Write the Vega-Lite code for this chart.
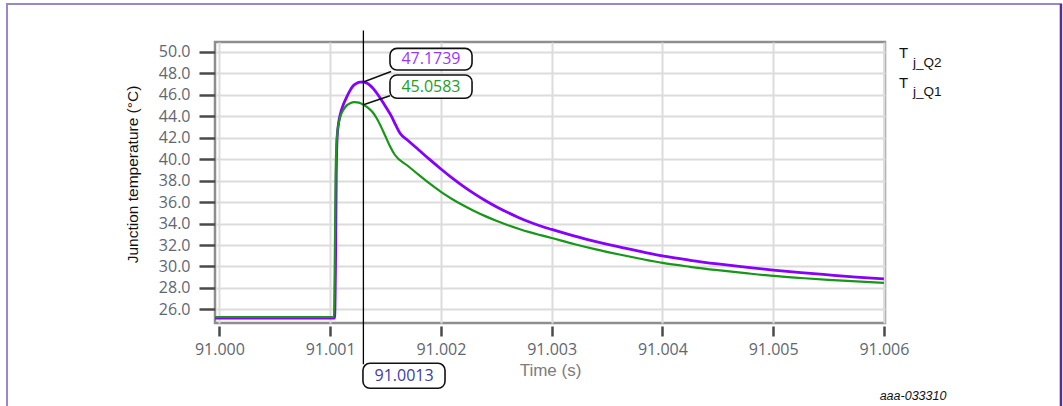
{
  "$schema": "https://vega.github.io/schema/vega-lite/v6.json",
  "width": 670,
  "height": 281,
  "autosize": {"type": "none"},
  "padding": {"left": 215, "top": 42, "right": 178, "bottom": 83},
  "background": "white",
  "config": {
    "view": {"stroke": "#8e8e8e", "strokeWidth": 2.5},
    "font": "Open Sans"
  },
  "datasets": {
    "temps": [
      {"t": 90.99996, "v": 25.2, "series": "Q2"},
      {"t": 91.00104, "v": 25.2, "series": "Q2"},
      {"t": 91.001048, "v": 30.0, "series": "Q2"},
      {"t": 91.001055, "v": 38.5, "series": "Q2"},
      {"t": 91.001062, "v": 41.8, "series": "Q2"},
      {"t": 91.001075, "v": 43.3, "series": "Q2"},
      {"t": 91.001092, "v": 44.2, "series": "Q2"},
      {"t": 91.00112, "v": 45.1, "series": "Q2"},
      {"t": 91.00115, "v": 45.8, "series": "Q2"},
      {"t": 91.00118, "v": 46.4, "series": "Q2"},
      {"t": 91.00121, "v": 46.85, "series": "Q2"},
      {"t": 91.00124, "v": 47.07, "series": "Q2"},
      {"t": 91.00127, "v": 47.17, "series": "Q2"},
      {"t": 91.0013, "v": 47.1739, "series": "Q2"},
      {"t": 91.00132, "v": 47.12, "series": "Q2"},
      {"t": 91.00134, "v": 47.02, "series": "Q2"},
      {"t": 91.00136, "v": 46.86, "series": "Q2"},
      {"t": 91.00138, "v": 46.66, "series": "Q2"},
      {"t": 91.0014, "v": 46.42, "series": "Q2"},
      {"t": 91.00142, "v": 46.15, "series": "Q2"},
      {"t": 91.00146, "v": 45.55, "series": "Q2"},
      {"t": 91.0015, "v": 44.9, "series": "Q2"},
      {"t": 91.001555, "v": 43.95, "series": "Q2"},
      {"t": 91.00159, "v": 43.2, "series": "Q2"},
      {"t": 91.001631, "v": 42.4, "series": "Q2"},
      {"t": 91.0017, "v": 41.75, "series": "Q2"},
      {"t": 91.0018, "v": 40.85, "series": "Q2"},
      {"t": 91.0019, "v": 39.95, "series": "Q2"},
      {"t": 91.002, "v": 39.08, "series": "Q2"},
      {"t": 91.0021, "v": 38.25, "series": "Q2"},
      {"t": 91.0022, "v": 37.48, "series": "Q2"},
      {"t": 91.0023, "v": 36.78, "series": "Q2"},
      {"t": 91.0024, "v": 36.14, "series": "Q2"},
      {"t": 91.0025, "v": 35.56, "series": "Q2"},
      {"t": 91.0026, "v": 35.04, "series": "Q2"},
      {"t": 91.0027, "v": 34.57, "series": "Q2"},
      {"t": 91.0028, "v": 34.14, "series": "Q2"},
      {"t": 91.0029, "v": 33.77, "series": "Q2"},
      {"t": 91.003, "v": 33.45, "series": "Q2"},
      {"t": 91.0032, "v": 32.85, "series": "Q2"},
      {"t": 91.0034, "v": 32.32, "series": "Q2"},
      {"t": 91.0036, "v": 31.84, "series": "Q2"},
      {"t": 91.0038, "v": 31.4, "series": "Q2"},
      {"t": 91.004, "v": 30.98, "series": "Q2"},
      {"t": 91.00425, "v": 30.58, "series": "Q2"},
      {"t": 91.0045, "v": 30.24, "series": "Q2"},
      {"t": 91.00475, "v": 29.94, "series": "Q2"},
      {"t": 91.005, "v": 29.67, "series": "Q2"},
      {"t": 91.00525, "v": 29.43, "series": "Q2"},
      {"t": 91.0055, "v": 29.22, "series": "Q2"},
      {"t": 91.00575, "v": 29.02, "series": "Q2"},
      {"t": 91.006, "v": 28.84, "series": "Q2"},
      {"t": 90.99996, "v": 25.3, "series": "Q1"},
      {"t": 91.001035, "v": 25.3, "series": "Q1"},
      {"t": 91.001043, "v": 32.0, "series": "Q1"},
      {"t": 91.00105, "v": 39.0, "series": "Q1"},
      {"t": 91.001058, "v": 41.6, "series": "Q1"},
      {"t": 91.00107, "v": 42.9, "series": "Q1"},
      {"t": 91.00109, "v": 43.9, "series": "Q1"},
      {"t": 91.00112, "v": 44.6, "series": "Q1"},
      {"t": 91.00115, "v": 45.0, "series": "Q1"},
      {"t": 91.00118, "v": 45.2, "series": "Q1"},
      {"t": 91.00122, "v": 45.3, "series": "Q1"},
      {"t": 91.00126, "v": 45.25, "series": "Q1"},
      {"t": 91.0013, "v": 45.0583, "series": "Q1"},
      {"t": 91.00134, "v": 44.8, "series": "Q1"},
      {"t": 91.00138, "v": 44.4, "series": "Q1"},
      {"t": 91.00142, "v": 43.8, "series": "Q1"},
      {"t": 91.00146, "v": 43.0, "series": "Q1"},
      {"t": 91.0015, "v": 42.1, "series": "Q1"},
      {"t": 91.00154, "v": 41.2, "series": "Q1"},
      {"t": 91.001585, "v": 40.38, "series": "Q1"},
      {"t": 91.0017, "v": 39.38, "series": "Q1"},
      {"t": 91.0018, "v": 38.53, "series": "Q1"},
      {"t": 91.0019, "v": 37.71, "series": "Q1"},
      {"t": 91.002, "v": 36.95, "series": "Q1"},
      {"t": 91.0021, "v": 36.29, "series": "Q1"},
      {"t": 91.0022, "v": 35.7, "series": "Q1"},
      {"t": 91.0023, "v": 35.17, "series": "Q1"},
      {"t": 91.0024, "v": 34.69, "series": "Q1"},
      {"t": 91.0025, "v": 34.26, "series": "Q1"},
      {"t": 91.0026, "v": 33.87, "series": "Q1"},
      {"t": 91.0027, "v": 33.52, "series": "Q1"},
      {"t": 91.0028, "v": 33.2, "series": "Q1"},
      {"t": 91.0029, "v": 32.92, "series": "Q1"},
      {"t": 91.003, "v": 32.65, "series": "Q1"},
      {"t": 91.0032, "v": 32.09, "series": "Q1"},
      {"t": 91.0034, "v": 31.59, "series": "Q1"},
      {"t": 91.0036, "v": 31.14, "series": "Q1"},
      {"t": 91.0038, "v": 30.72, "series": "Q1"},
      {"t": 91.004, "v": 30.33, "series": "Q1"},
      {"t": 91.00425, "v": 29.97, "series": "Q1"},
      {"t": 91.0045, "v": 29.66, "series": "Q1"},
      {"t": 91.00475, "v": 29.38, "series": "Q1"},
      {"t": 91.005, "v": 29.12, "series": "Q1"},
      {"t": 91.00525, "v": 28.93, "series": "Q1"},
      {"t": 91.0055, "v": 28.76, "series": "Q1"},
      {"t": 91.00575, "v": 28.61, "series": "Q1"},
      {"t": 91.006, "v": 28.47, "series": "Q1"}
    ],
    "frame": [{"t": 90.998082, "t2": 91.007599, "v": 54.44, "v2": 16.5}],
    "cursor": [{"t": 91.0013, "v": 51.97, "v2": 20.9}],
    "leaders": [
      {"t": 91.0013, "v": 47.1739, "t2": 91.00155, "v2": 48.15},
      {"t": 91.0013, "v": 45.0583, "t2": 91.00154, "v2": 45.9}
    ],
    "boxes": [
      {"t": 91.00154, "t2": 91.002281, "v": 50.31, "v2": 48.29},
      {"t": 91.00154, "t2": 91.002281, "v": 47.83, "v2": 45.66},
      {"t": 91.001296, "t2": 91.002037, "v": 20.99, "v2": 18.66}
    ],
    "boxlabels": [
      {"t": 91.00191, "v": 49.3, "label": "47.1739", "series": "L2"},
      {"t": 91.00191, "v": 46.75, "label": "45.0583", "series": "L1"},
      {"t": 91.001667, "v": 19.82, "label": "91.0013", "series": "cursor"}
    ],
    "legendT": [
      {"t": 91.006137, "v": 49.88, "label": "T"},
      {"t": 91.006137, "v": 47.08, "label": "T"}
    ],
    "legendSub": [
      {"t": 91.006263, "v": 48.95, "label": "j_Q2"},
      {"t": 91.006263, "v": 46.27, "label": "j_Q1"}
    ],
    "mark": [{"t": 91.006263, "v": 17.94, "label": "aaa-033310"}]
  },
  "encoding": {
    "x": {
      "field": "t",
      "type": "quantitative",
      "scale": {"domain": [90.99996, 91.00601], "nice": false, "zero": false},
      "axis": {
        "title": "Time (s)",
        "values": [91.0, 91.001, 91.002, 91.003, 91.004, 91.005, 91.006],
        "format": ".3f",
        "domain": false,
        "offset": 3,
        "tickSize": 10,
        "tickWidth": 2.5,
        "tickColor": "#4a4a4a",
        "labelPadding": 5,
        "labelFont": "Open Sans",
        "labelFontSize": 16,
        "labelColor": "#5e6772",
        "grid": true,
        "gridColor": "#dcdcdc",
        "gridWidth": 2,
        "titleFont": "Liberation Sans",
        "titleFontSize": 17,
        "titleFontWeight": "normal",
        "titleColor": "#7c7c7c",
        "titleBaseline": "middle",
        "titleY": 44
      }
    },
    "y": {
      "field": "v",
      "type": "quantitative",
      "scale": {"domain": [24.74, 50.9], "nice": false, "zero": false},
      "axis": {
        "title": "Junction temperature (°C)",
        "values": [26, 28, 30, 32, 34, 36, 38, 40, 42, 44, 46, 48, 50],
        "format": ".1f",
        "domain": false,
        "tickSize": 16,
        "tickWidth": 2.5,
        "tickColor": "#4a4a4a",
        "labelPadding": 9,
        "labelFont": "Open Sans",
        "labelFontSize": 16,
        "labelColor": "#5e6772",
        "grid": true,
        "gridColor": "#dcdcdc",
        "gridWidth": 2,
        "titleFont": "Liberation Sans",
        "titleFontSize": 15.5,
        "titleFontWeight": "normal",
        "titleColor": "#111111",
        "titleBaseline": "middle",
        "titleAlign": "center",
        "titleAngle": -90,
        "titleX": -83,
        "titleY": 132
      }
    }
  },
  "layer": [
    {
      "data": {"name": "frame"},
      "mark": {"type": "rect", "fill": null, "stroke": "#9b87c7", "strokeWidth": 2},
      "encoding": {"x2": {"field": "t2"}, "y2": {"field": "v2"}}
    },
    {
      "data": {"name": "frame"},
      "mark": {"type": "rule", "stroke": "#5b2d90", "strokeWidth": 2.5},
      "encoding": {"x": {"field": "t2", "type": "quantitative"}, "y2": {"field": "v2"}}
    },
    {
      "data": {"name": "temps"},
      "mark": {"type": "line", "interpolate": "monotone"},
      "encoding": {
        "color": {
          "field": "series",
          "type": "nominal",
          "scale": {"domain": ["Q2", "Q1", "L2", "L1", "cursor"], "range": ["#8500ff", "#179617", "#9a35ff", "#22a022", "#3b3ba3"]},
          "legend": null
        },
        "strokeWidth": {
          "field": "series",
          "type": "nominal",
          "scale": {"domain": ["Q2", "Q1"], "range": [2.8, 2.2]},
          "legend": null
        }
      }
    },
    {
      "data": {"name": "cursor"},
      "mark": {"type": "rule", "color": "#000000", "strokeWidth": 1.3},
      "encoding": {"y2": {"field": "v2"}}
    },
    {
      "data": {"name": "leaders"},
      "mark": {"type": "rule", "color": "#111111", "strokeWidth": 1.5},
      "encoding": {"x2": {"field": "t2"}, "y2": {"field": "v2"}}
    },
    {
      "data": {"name": "boxes"},
      "mark": {"type": "rect", "fill": "white", "stroke": "#111111", "strokeWidth": 1.6, "cornerRadius": 7},
      "encoding": {"x2": {"field": "t2"}, "y2": {"field": "v2"}}
    },
    {
      "data": {"name": "boxlabels"},
      "mark": {"type": "text", "font": "Open Sans", "fontSize": 16, "align": "center", "baseline": "middle"},
      "encoding": {
        "text": {"field": "label"},
        "color": {"field": "series", "type": "nominal", "legend": null}
      }
    },
    {
      "data": {"name": "legendT"},
      "mark": {"type": "text", "font": "Liberation Sans", "fontSize": 15, "align": "left", "baseline": "middle", "color": "#111111"},
      "encoding": {"text": {"field": "label"}}
    },
    {
      "data": {"name": "legendSub"},
      "mark": {"type": "text", "font": "Liberation Sans", "fontSize": 13.5, "align": "left", "baseline": "middle", "color": "#111111"},
      "encoding": {"text": {"field": "label"}}
    },
    {
      "data": {"name": "mark"},
      "mark": {"type": "text", "font": "Liberation Sans", "fontSize": 12.5, "fontStyle": "italic", "align": "center", "baseline": "middle", "color": "#111111"},
      "encoding": {"text": {"field": "label"}}
    }
  ]
}
